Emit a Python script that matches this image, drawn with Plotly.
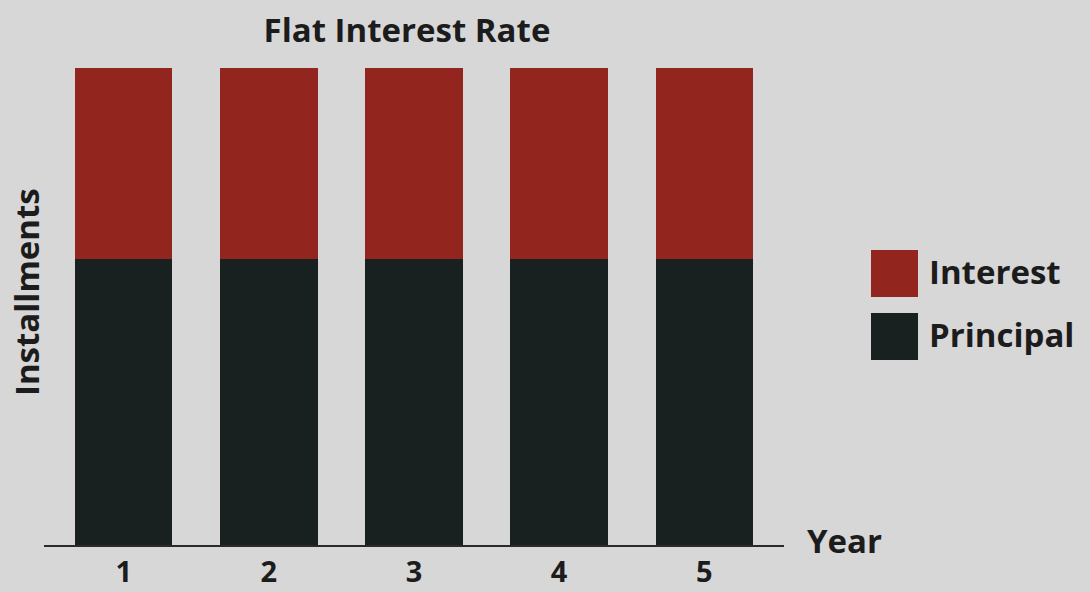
import plotly.graph_objects as go

years = ["1", "2", "3", "4", "5"]
year_pos = [1, 2, 3, 4, 5]
principal = [60, 60, 60, 60, 60]
interest = [40, 40, 40, 40, 40]

RED = "#92251d"
DARK = "#182020"
BG = "#d7d7d8"
TXT = "#1c1c1c"
FONT = "Open Sans"
FS = 33

W, H = 1090, 592
L, R, T, B = 44, 306, 68, 47
PW, PH = W - L - R, H - T - B

def px(x):
    return (x - L) / PW

def py(y):
    return (H - B - y) / PH

fig = go.Figure()
fig.add_bar(x=year_pos, y=principal, name="Principal", marker=dict(color=DARK, line=dict(width=0)), width=0.67)
fig.add_bar(x=year_pos, y=interest, name="Interest", marker=dict(color=RED, line=dict(width=0)), width=0.67)

fig.update_layout(
    barmode="stack",
    width=W, height=H,
    margin=dict(l=L, r=R, t=T, b=B, autoexpand=False),
    paper_bgcolor=BG, plot_bgcolor=BG,
    showlegend=False,
    font=dict(family=FONT, color=TXT, size=FS, weight=700),
    title=dict(text="Flat Interest Rate", x=407 / W, xanchor="center", y=1 - 30 / H, yanchor="middle",
               font=dict(family=FONT, size=FS, weight=700, color=TXT)),
    xaxis=dict(range=[0.45, 5.55], tickvals=year_pos, ticktext=years, showgrid=False, zeroline=False,
               showline=True, linecolor="#2a2a2a", linewidth=2, ticks="", ticklabelstandoff=0,
               automargin=False, tickfont=dict(size=29, family=FONT, weight=700, color=TXT)),
    yaxis=dict(range=[0, 100], showgrid=False, zeroline=False, showticklabels=False, ticks="",
               automargin=False),
)

fig.add_annotation(text="Installments", xref="paper", yref="paper", x=px(26), y=py(292),
                   xanchor="center", yanchor="middle", textangle=-90, showarrow=False,
                   font=dict(size=FS, family=FONT, weight=700, color=TXT))

fig.add_annotation(text="Year", xref="paper", yref="paper", x=px(805), y=py(540),
                   xanchor="left", yanchor="middle", showarrow=False,
                   font=dict(size=FS, family=FONT, weight=700, color=TXT))

# legend
legend_items = [("Interest", RED), ("Principal", DARK)]
for i, (label, col) in enumerate(legend_items):
    top = 250 + i * 63
    fig.add_shape(type="rect", xref="paper", yref="paper",
                  x0=px(871), x1=px(918), y0=py(top), y1=py(top + 47),
                  fillcolor=col, line=dict(width=0))
    fig.add_annotation(text=label, xref="paper", yref="paper",
                       x=px(927), y=py(top + 21), xanchor="left", yanchor="middle",
                       showarrow=False, font=dict(size=FS, family=FONT, weight=700, color=TXT))

fig.write_html("out.html", config={"displayModeBar": False},
               post_script="document.body.style.margin='0';document.body.style.padding='0';")
